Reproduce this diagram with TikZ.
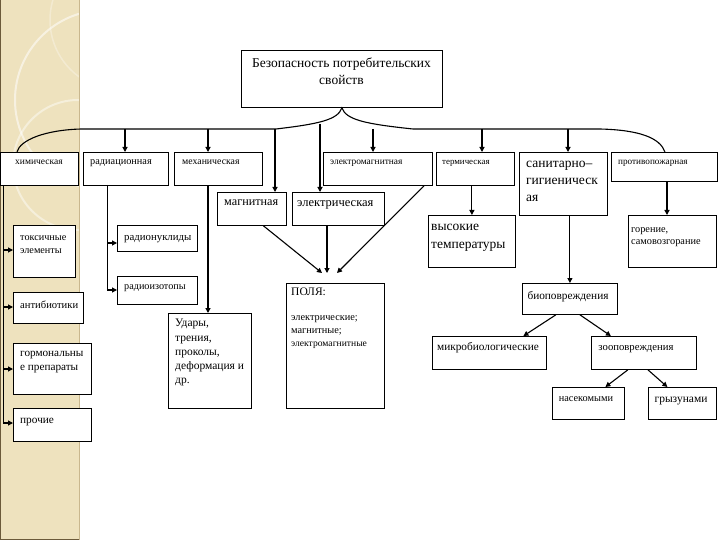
\documentclass[tikz,border=0pt]{standalone}
\usepackage{fontspec}
\setmainfont{Liberation Serif}
\usetikzlibrary{arrows.meta}
\definecolor{side}{HTML}{EEE2BE}
\definecolor{sideedge}{HTML}{C9B78E}
\definecolor{sidedark}{HTML}{6B5A3A}
\newcommand\fs[2]{\fontsize{#1}{#2}\selectfont}
\begin{document}
\begin{tikzpicture}[x=1pt,y=-1pt,
  box/.style={draw, line width=0.8pt, fill=white, inner sep=0, anchor=north west},
  arr/.style={line width=1.1pt, -{Triangle[length=5pt,width=5pt]}},
  ln/.style={line width=1.1pt},
  txt/.style={anchor=north west, inner sep=0, align=left},
  ctxt/.style={anchor=north, inner sep=0, align=center}]
\useasboundingbox (0,0) rectangle (720,540);
% sidebar
\fill[side] (0,0) rectangle (79,540);
\begin{scope}
\clip (0,0) rectangle (79,540);
\draw[white, opacity=0.55, line width=2pt] (105,100) circle (90);
\draw[white, opacity=0.45, line width=2pt] (78,165) circle (65);
\draw[white, opacity=0.3, line width=1.5pt] (120,20) circle (70);
\end{scope}
\draw[sideedge, line width=1pt] (79,0) -- (79,540);
\draw[sidedark, line width=1.5pt] (0.5,0) -- (0.5,540);
\draw[sidedark, line width=1pt] (0,539.5) -- (79,539.5);

% top box
\node[box, minimum width=201, minimum height=57] (top) at (241,50) {};
\node[ctxt, font=\fs{13.5}{17}] (topT) at (341.5,58) {Безопасность потребительских\\свойств};

% row 1
\node[box, minimum width=78, minimum height=33] (chem) at (0,152) {};
\node[txt, font=\fs{9.5}{11}] (chemT) at (15,160) {химическая};
\node[box, minimum width=85, minimum height=33] (rad) at (83,152) {};
\node[txt, font=\fs{10.3}{12}] (radT) at (90,159) {радиационная};
\node[box, minimum width=88, minimum height=33] (mech) at (174,152) {};
\node[txt, font=\fs{9.8}{12}] (mechT) at (182,160) {механическая};
\node[box, minimum width=109, minimum height=33] (em) at (323,152) {};
\node[txt, font=\fs{9.4}{11}] (emT) at (330,160) {электромагнитная};
\node[box, minimum width=78, minimum height=33] (therm) at (436,152) {};
\node[txt, font=\fs{8.9}{11}] (thermT) at (442,160) {термическая};
\node[box, minimum width=88, minimum height=63] (san) at (519,152) {};
\node[txt, font=\fs{13.5}{17}] (sanT) at (526,161) {санитарно–\\гигиеническ\\ая};
\node[box, minimum width=106, minimum height=29] (fire) at (611,152) {};
\node[txt, font=\fs{9.2}{11}] (fireT) at (618,160) {противопожарная};

% row 2
\node[box, minimum width=69, minimum height=33] (magn) at (217,192) {};
\node[txt, font=\fs{12.2}{14}] (magnT) at (224,200) {магнитная};
\node[box, minimum width=92, minimum height=33] (elec) at (292,192) {};
\node[txt, font=\fs{12.5}{14}] (elecT) at (297,200) {электрическая};
\node[box, minimum width=87, minimum height=52] (hightemp) at (428,215) {};
\node[txt, font=\fs{13.5}{18}] (hightempT) at (431,224) {высокие\\температуры};
\node[box, minimum width=88, minimum height=52] (burn) at (628,215) {};
\node[txt, font=\fs{10.3}{12.5}] (burnT) at (631,227) {горение,\\самовозгорание};

% radiation children
\node[box, minimum width=80, minimum height=26] (nucl) at (117,225) {};
\node[txt, font=\fs{10.8}{12}] (nuclT) at (124,235) {радионуклиды};
\node[box, minimum width=80, minimum height=28] (isot) at (117,276) {};
\node[txt, font=\fs{10.2}{12}] (isotT) at (124,284) {радиоизотопы};

% chemical children
\node[box, minimum width=62, minimum height=52] (tox) at (13,225) {};
\node[txt, font=\fs{10.2}{13.5}] (toxT) at (20,235) {токсичные\\элементы};
\node[box, minimum width=70, minimum height=31] (anti) at (13,292) {};
\node[txt, font=\fs{10.6}{12}] (antiT) at (20,301) {антибиотики};
\node[box, minimum width=78, minimum height=51] (horm) at (13,343) {};
\node[txt, font=\fs{11.2}{14}] (hormT) at (20,351) {гормональны\\е препараты};
\node[box, minimum width=78, minimum height=33] (other) at (13,408) {};
\node[txt, font=\fs{11.3}{13}] (otherT) at (20,418) {прочие};

% mechanical child
\node[box, minimum width=83, minimum height=95] (udar) at (168,313) {};
\node[txt, font=\fs{11.5}{14.3}] (udarT) at (175,319) {Удары,\\трения,\\проколы,\\деформация и\\др.};

% fields
\node[box, minimum width=98, minimum height=125] (field) at (286,283) {};
\node[txt, font=\fs{11.5}{13}] (fieldT) at (291,288) {ПОЛЯ:};
\node[txt, font=\fs{10.3}{13}] (fieldT2) at (291,315) {электрические;\\магнитные;\\{\fs{9.6}{13}электромагнитные}};

% bio
\node[box, minimum width=95, minimum height=31] (bio) at (522,283) {};
\node[ctxt, font=\fs{11.3}{13}] (bioT) at (568,291) {биоповреждения};
\node[box, minimum width=114, minimum height=33] (micro) at (432,336) {};
\node[ctxt, font=\fs{11.3}{13}] (microT) at (488,342) {микробиологические};
\node[box, minimum width=105, minimum height=33] (zoo) at (591,336) {};
\node[ctxt, font=\fs{10.7}{13}] (zooT) at (636,345) {зооповреждения};
\node[box, minimum width=72, minimum height=32] (ins) at (552,387) {};
\node[ctxt, font=\fs{10.3}{12}] (insT) at (586,396) {насекомыми};
\node[box, minimum width=68, minimum height=32] (rod) at (648,387) {};
\node[ctxt, font=\fs{11.5}{13}] (rodT) at (681,397) {грызунами};

% brace
\draw[ln] (chem.north -| 17,0) .. controls (20,140) and (45,130) .. (81,129) -- (276,129)
  .. controls (318,124) and (338,120) .. (top.south)
  .. controls (346,120) and (366,124) .. (413,129) -- (600,129)
  .. controls (640,130) and (660,138) .. (fire.north -| 665,0);

% arrows from brace
\coordinate (bRad) at (125,129);
\coordinate (bMech) at (208,129);
\coordinate (bMagn) at (275,129);
\coordinate (bElec) at (320,124);
\coordinate (bEm) at (373,129);
\coordinate (bTherm) at (482,129);
\coordinate (bSan) at (568,129);
\draw[arr] (bRad) -- (bRad |- rad.north);
\draw[arr] (bMech) -- (bMech |- mech.north);
\draw[arr] (bMagn) -- (bMagn |- magn.north);
\draw[arr] (bElec) -- (bElec |- elec.north);
\draw[arr] (bEm) -- (bEm |- em.north);
\draw[arr] (bTherm) -- (bTherm |- therm.north);
\draw[arr] (bSan) -- (bSan |- san.north);

% thermal / fire / sanitary
\draw[arr] (therm.south -| hightemp.north) -- (hightemp.north);
\draw[ln, line width=1.5pt, -{Triangle[length=5pt,width=5pt]}] (fire.south -| 667,0) -- (burn.north -| 667,0);
\draw[arr] (san.south -| bio.north) -- (bio.north);

% bio tree
\draw[arr] ([xshift=-14]bio.south) -- ([xshift=34]micro.north);
\draw[arr] ([xshift=10]bio.south) -- ([xshift=-33]zoo.north);
\draw[arr] ([xshift=-16]zoo.south) -- ([xshift=17]ins.north);
\draw[arr] ([xshift=4]zoo.south) -- ([xshift=-15]rod.north);

% fields
\coordinate (fIn1) at (322,273);
\coordinate (fIn2) at (327,273);
\coordinate (fIn3) at (337,273);
\draw[arr] ([xshift=11.5]magn.south) -- (fIn1);
\draw[arr] (elec.south -| fIn2) -- (fIn2);
\draw[arr] (em.south -| 424,0) -- (fIn3);

% mechanical
\draw[ln, line width=1.5pt, -{Triangle[length=5pt,width=5pt]}] (mech.south -| 208,0) -- (udar.north -| 208,0);

% radiation
\coordinate (rTop) at (107,185);
\draw[ln, line width=0.8pt] (rTop) -- (107,290);
\draw[arr] (107,243) -- (nucl.west |- 0,243);
\draw[arr] (107,290) -- (isot.west |- 0,290);

% chemical
\draw[ln, line width=0.8pt] (3,185) -- (3,423);
\draw[arr] (3,250) -- (tox.west |- 0,250);
\draw[arr] (3,307) -- (anti.west |- 0,307);
\draw[arr] (3,369) -- (horm.west |- 0,369);
\draw[arr] (3,423) -- (other.west |- 0,423);
\end{tikzpicture}
\end{document}
